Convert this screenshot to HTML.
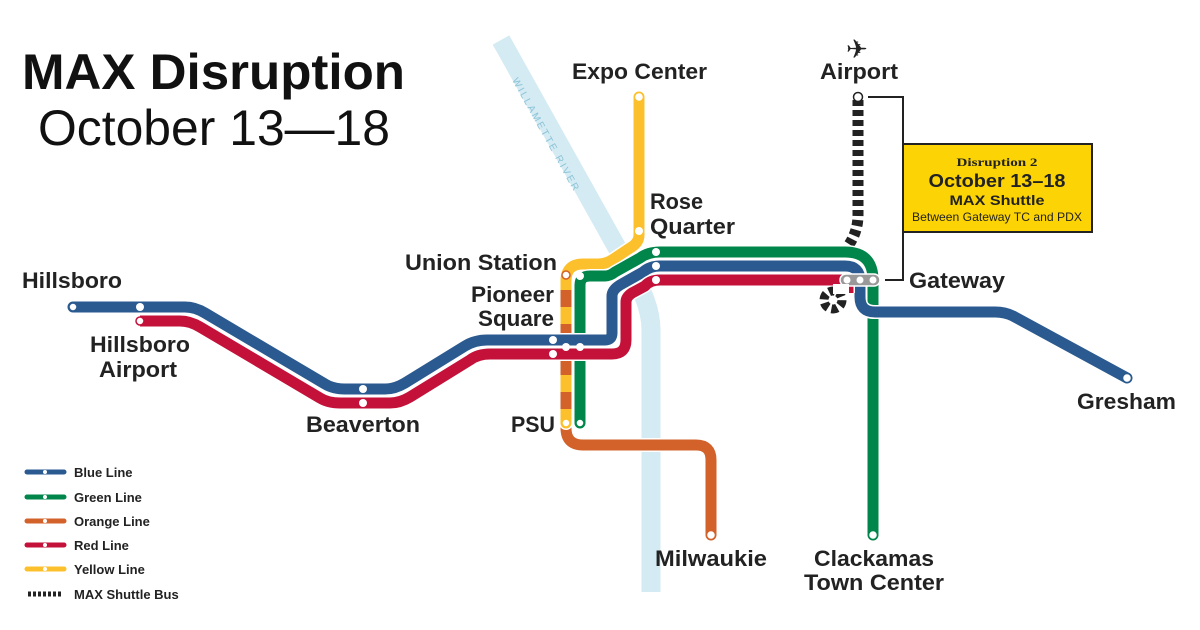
<!DOCTYPE html>
<html><head><meta charset="utf-8"><style>
html,body{margin:0;padding:0;background:#fff;}
svg{display:block;font-family:"Liberation Sans",sans-serif;}
</style></head><body>
<svg width="1200" height="630" viewBox="0 0 1200 630" xmlns="http://www.w3.org/2000/svg">
<rect width="1200" height="630" fill="#fff"/>
<!-- river -->
<path d="M501,40 L625,262 Q651,300 651,330 L651,592" fill="none" stroke="#d4ebf4" stroke-width="19"/>
<text transform="translate(512,80) rotate(61)" font-size="10" fill="#8cc3d6" letter-spacing="2">WILLAMETTE RIVER</text>
<!-- title -->
<text x="22" y="89" font-size="50" font-weight="bold" fill="#111" textLength="383" lengthAdjust="spacingAndGlyphs">MAX Disruption</text>
<text x="38" y="145" font-size="50" fill="#111" textLength="352" lengthAdjust="spacingAndGlyphs">October 13—18</text>
<g fill="none" stroke-linejoin="round" stroke-linecap="round">
<!-- shuttle -->
<path d="M858,100 L858,215 Q858,232 848,246" stroke="#222" stroke-width="11" stroke-dasharray="6,4" stroke-linecap="butt"/>
<!-- orange -->
<path d="M566,275 L566,428 Q566,445 583,445 L696,445 Q711,445 711,460 L711,535" stroke="#fff" stroke-width="14"/>
<path d="M566,275 L566,428 Q566,445 583,445 L696,445 Q711,445 711,460 L711,535" stroke="#d2622a" stroke-width="11"/>
<!-- yellow -->
<path d="M639,97 L639,235 Q639,243 630,248 L612,260 Q606,264 598,264 L583,264 Q566,264 566,281 L566,423" stroke="#fff" stroke-width="14"/>
<path d="M639,97 L639,235 Q639,243 630,248 L612,260 Q606,264 598,264 L583,264 Q566,264 566,281 L566,423" stroke="#fcc02c" stroke-width="11"/>
<path d="M566,290 L566,423" stroke="#d2622a" stroke-width="11" stroke-dasharray="17,17" stroke-linecap="butt"/>
<!-- green -->
<path d="M580,423 L580,285 Q580,276 590,276 L605,276 Q610,276 615,272 L640,258 Q648,252 660,252 L845,252 Q873,252 873,280 L873,535" stroke="#fff" stroke-width="14"/>
<path d="M580,423 L580,285 Q580,276 590,276 L605,276 Q610,276 615,272 L640,258 Q648,252 660,252 L845,252 Q873,252 873,280 L873,535" stroke="#00854a" stroke-width="11"/>
<!-- blue -->
<path d="M73,307 L185,307 Q195,307 205,313 L325,384 Q333,389 345,389 L385,389 Q395,389 405,383 L465,346 Q475,340 487,340 L605,340 Q612,340 612,333 L612,296 Q612,290 620,285 L643,272 Q650,266 660,266 L845,266 Q860,266 860,281 L860,297 Q860,312 875,312 L995,312 Q1005,312 1013,316 L1127,378" stroke="#fff" stroke-width="14"/>
<path d="M73,307 L185,307 Q195,307 205,313 L325,384 Q333,389 345,389 L385,389 Q395,389 405,383 L465,346 Q475,340 487,340 L605,340 Q612,340 612,333 L612,296 Q612,290 620,285 L643,272 Q650,266 660,266 L845,266 Q860,266 860,281 L860,297 Q860,312 875,312 L995,312 Q1005,312 1013,316 L1127,378" stroke="#2a5a8f" stroke-width="11"/>
<!-- red -->
<path d="M140,321 L180,321 Q190,321 200,327 L320,398 Q328,403 340,403 L390,403 Q400,403 410,397 L470,360 Q478,354 490,354 L612,354 Q626,354 626,340 L626,302 Q626,297 632,293 L645,286 Q650,280 660,280 L848,280 L848,293" stroke="#fff" stroke-width="14" stroke-linecap="butt"/>
<path d="M140,321 L180,321 Q190,321 200,327 L320,398 Q328,403 340,403 L390,403 Q400,403 410,397 L470,360 Q478,354 490,354 L612,354 Q626,354 626,340 L626,302 Q626,297 632,293 L645,286 Q650,280 660,280 L848,280 L848,293" stroke="#c4113a" stroke-width="11" stroke-linecap="butt"/>
</g>
<!-- airport callout -->
<path d="M868,97 L903,97 L903,280 L885,280" fill="none" stroke="#222" stroke-width="2"/>
<rect x="903" y="144" width="189" height="88" fill="#fcd405" stroke="#222" stroke-width="2"/>
<text x="997" y="166" font-size="12" font-family="Liberation Serif,serif" font-weight="bold" text-anchor="middle" fill="#222" textLength="81" lengthAdjust="spacingAndGlyphs">Disruption 2</text>
<text x="997" y="187" font-size="18" font-weight="bold" text-anchor="middle" fill="#222" textLength="137" lengthAdjust="spacingAndGlyphs">October 13–18</text>
<text x="997" y="205" font-size="14" font-weight="bold" text-anchor="middle" fill="#222" textLength="95" lengthAdjust="spacingAndGlyphs">MAX Shuttle</text>
<text x="997" y="221" font-size="12" text-anchor="middle" fill="#222" textLength="170" lengthAdjust="spacingAndGlyphs">Between Gateway TC and PDX</text>
<!-- gateway pill -->
<rect x="840" y="274" width="40" height="12" rx="6" fill="#999" stroke="#fff" stroke-width="1.5"/>
<g fill="#fff">
<circle cx="847" cy="280" r="3.5"/><circle cx="860" cy="280" r="3.5"/><circle cx="873" cy="280" r="3.5"/>
</g>
<!-- shuttle stop icon -->
<circle cx="833" cy="300" r="9" fill="none" stroke="#222" stroke-width="9" stroke-dasharray="6,3.5" transform="rotate(-60 833 300)" stroke-dashoffset="0"/>
<rect x="833" y="284" width="16" height="10" fill="#fff"/>
<path d="M840,286 L849,286 L849,293" fill="none" stroke="#c4113a" stroke-width="0"/>
<!-- stations -->
<g fill="#fff" stroke-width="1.5">
<circle cx="73" cy="307" r="4" stroke="#2a5a8f"/>
<circle cx="140" cy="307" r="4" stroke="none"/>
<circle cx="140" cy="321" r="4" stroke="#c4113a"/>
<circle cx="363" cy="389" r="4"/><circle cx="363" cy="403" r="4"/>
<circle cx="553" cy="340" r="4"/><circle cx="553" cy="354" r="4"/>
<circle cx="566" cy="347" r="4"/><circle cx="580" cy="347" r="4"/>
<circle cx="566" cy="275" r="4" stroke="#d2622a"/><circle cx="580" cy="276" r="4"/>
<circle cx="566" cy="423" r="4" stroke="#fcc02c"/><circle cx="580" cy="423" r="4" stroke="#00854a"/>
<circle cx="639" cy="97" r="4.5" stroke="#fcc02c"/><circle cx="639" cy="231" r="4"/>
<circle cx="656" cy="252" r="4"/><circle cx="656" cy="266" r="4"/><circle cx="656" cy="280" r="4"/>
<circle cx="858" cy="97" r="4.5" stroke="#222"/>
<circle cx="1127" cy="378" r="4.5" stroke="#2a5a8f"/>
<circle cx="873" cy="535" r="4.5" stroke="#00854a"/>
<circle cx="711" cy="535" r="4.5" stroke="#d2622a"/>
</g>
<!-- plane -->
<text x="846" y="58" font-size="26" fill="#222">✈</text>
<!-- labels -->
<g font-size="22" fill="#222" font-weight="bold" lengthAdjust="spacingAndGlyphs">
<text x="572" y="79" textLength="135" lengthAdjust="spacingAndGlyphs">Expo Center</text>
<text x="820" y="79" textLength="78" lengthAdjust="spacingAndGlyphs">Airport</text>
<text x="650" y="209" textLength="53" lengthAdjust="spacingAndGlyphs">Rose</text>
<text x="650" y="234" textLength="85" lengthAdjust="spacingAndGlyphs">Quarter</text>
<text x="405" y="270" textLength="152" lengthAdjust="spacingAndGlyphs">Union Station</text>
<text x="471" y="302" textLength="83" lengthAdjust="spacingAndGlyphs">Pioneer</text>
<text x="478" y="326" textLength="76" lengthAdjust="spacingAndGlyphs">Square</text>
<text x="22" y="288" textLength="100" lengthAdjust="spacingAndGlyphs">Hillsboro</text>
<text x="90" y="352" textLength="100" lengthAdjust="spacingAndGlyphs">Hillsboro</text>
<text x="99" y="377" textLength="78" lengthAdjust="spacingAndGlyphs">Airport</text>
<text x="306" y="432" textLength="114" lengthAdjust="spacingAndGlyphs">Beaverton</text>
<text x="511" y="432" textLength="44" lengthAdjust="spacingAndGlyphs">PSU</text>
<text x="909" y="288" textLength="96" lengthAdjust="spacingAndGlyphs">Gateway</text>
<text x="1077" y="409" textLength="99" lengthAdjust="spacingAndGlyphs">Gresham</text>
<text x="655" y="566" textLength="112" lengthAdjust="spacingAndGlyphs">Milwaukie</text>
<text x="814" y="566" textLength="120" lengthAdjust="spacingAndGlyphs">Clackamas</text>
<text x="804" y="590" textLength="140" lengthAdjust="spacingAndGlyphs">Town Center</text>
</g>
<!-- legend -->
<g stroke-width="5" stroke-linecap="round">
<line x1="27" y1="472" x2="64" y2="472" stroke="#2a5a8f"/>
<line x1="27" y1="497" x2="64" y2="497" stroke="#00854a"/>
<line x1="27" y1="521" x2="64" y2="521" stroke="#d2622a"/>
<line x1="27" y1="545" x2="64" y2="545" stroke="#c4113a"/>
<line x1="27" y1="569" x2="64" y2="569" stroke="#fcc02c"/>
</g>
<line x1="28" y1="594" x2="63" y2="594" stroke="#222" stroke-width="5" stroke-dasharray="3,2"/>
<g fill="#fff"><circle cx="45" cy="472" r="2"/><circle cx="45" cy="497" r="2"/><circle cx="45" cy="521" r="2"/><circle cx="45" cy="545" r="2"/><circle cx="45" cy="569" r="2"/></g>
<g font-size="13" font-weight="bold" fill="#222">
<text x="74" y="477">Blue Line</text>
<text x="74" y="502">Green Line</text>
<text x="74" y="526">Orange Line</text>
<text x="74" y="550">Red Line</text>
<text x="74" y="574">Yellow Line</text>
<text x="74" y="599">MAX Shuttle Bus</text>
</g>
</svg>
</body></html>
